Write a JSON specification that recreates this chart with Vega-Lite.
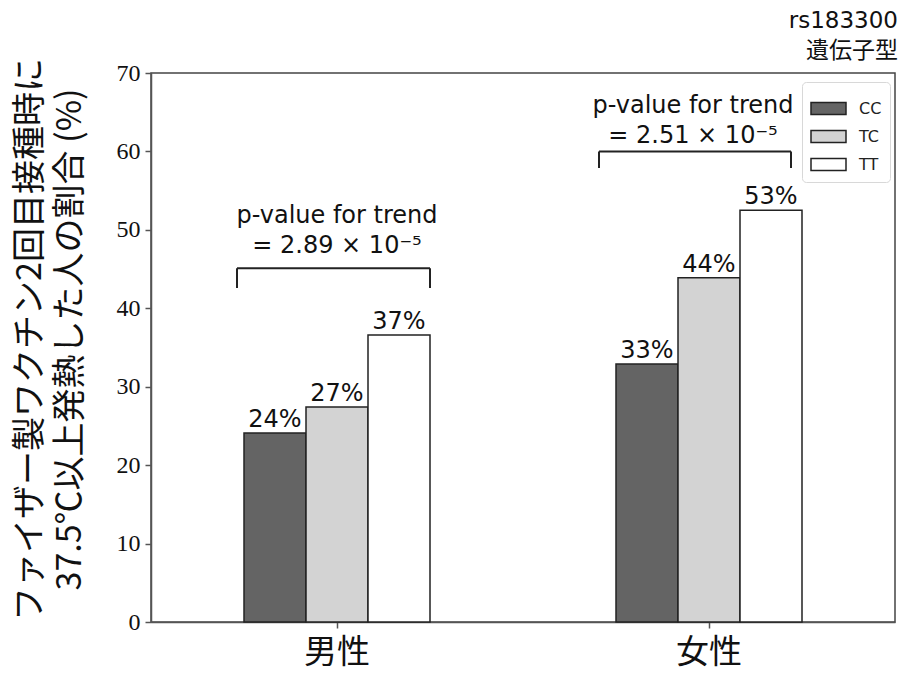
{
  "$schema": "https://vega.github.io/schema/vega-lite/v6.json",
  "width": 744,
  "height": 549,
  "autosize": {"type": "none"},
  "padding": {"left": 151, "top": 73, "right": 12, "bottom": 53},
  "background": "white",
  "title": {
    "text": ["rs183300", "遺伝子型"],
    "anchor": "end",
    "frame": "group",
    "font": "DejaVu Sans, Noto Sans CJK JP",
    "fontSize": 23,
    "fontWeight": "normal",
    "lineHeight": 30,
    "color": "#111",
    "offset": -5,
    "dx": 3
  },
  "config": {
    "font": "DejaVu Sans",
    "view": {"stroke": "#444", "strokeWidth": 1.5},
    "axis": {"grid": false, "domainColor": "#555", "domainWidth": 1.5, "tickColor": "#555", "tickWidth": 1.5, "tickSize": 6, "labelColor": "#111"},
    "axisY": {
      "labelFont": "Liberation Serif", "labelFontSize": 24, "labelPadding": 5, "labelColor": "#111",
      "titleFont": "Noto Sans CJK JP", "titleFontSize": 34, "titleFontWeight": "normal",
      "titleLineHeight": 40, "titleColor": "#111"
    },
    "axisX": {
      "labelAngle": 0, "labelFont": "Noto Sans CJK JP", "labelFontSize": 33, "labelPadding": 8, "labelColor": "#111"
    },
    "legend": {
      "orient": "none",
      "legendX": 651,
      "legendY": 9,
      "strokeColor": "#d8d8d8",
      "fillColor": "white",
      "cornerRadius": 4,
      "padding": 8,
      "symbolType": "M-1,-0.34H1V0.34H-1Z",
      "symbolSize": 1225,
      "symbolStrokeColor": "#222",
      "symbolStrokeWidth": 1.5,
      "labelFont": "DejaVu Sans",
      "labelFontSize": 16,
      "labelColor": "#222",
      "labelOffset": 12,
      "rowPadding": -3
    }
  },
  "layer": [
    {
      "data": {
        "values": [
          {"sex": "男性", "genotype": "CC", "pct": 24.1, "label": "24%"},
          {"sex": "男性", "genotype": "TC", "pct": 27.4, "label": "27%"},
          {"sex": "男性", "genotype": "TT", "pct": 36.6, "label": "37%"},
          {"sex": "女性", "genotype": "CC", "pct": 32.9, "label": "33%"},
          {"sex": "女性", "genotype": "TC", "pct": 43.9, "label": "44%"},
          {"sex": "女性", "genotype": "TT", "pct": 52.5, "label": "53%"}
        ]
      },
      "encoding": {
        "x": {
          "field": "sex", "type": "nominal",
          "scale": {"domain": ["男性", "女性"], "paddingInner": 0.5, "paddingOuter": 0.25},
          "axis": {"title": null}
        },
        "xOffset": {"field": "genotype", "type": "nominal", "scale": {"domain": ["CC", "TC", "TT"], "paddingInner": 0, "paddingOuter": 0}},
        "y": {
          "field": "pct", "type": "quantitative",
          "scale": {"domain": [0, 70], "nice": false},
          "axis": {
            "values": [0, 10, 20, 30, 40, 50, 60, 70],
            "title": ["ファイザー製ワクチン2回目接種時に", "37.5℃以上発熱した人の割合 (%)"],
            "titleX": -104, "titleY": 266, "titleAlign": "center", "titleBaseline": "bottom"
          }
        }
      },
      "layer": [
        {
          "mark": {"type": "bar", "stroke": "#222", "strokeWidth": 1.5},
          "encoding": {
            "fill": {
              "field": "genotype", "type": "nominal",
              "scale": {"domain": ["CC", "TC", "TT"], "range": ["#646464", "#d3d3d3", "#ffffff"]},
              "legend": {"title": null}
            }
          }
        },
        {
          "mark": {"type": "text", "baseline": "alphabetic", "dy": -6, "fontSize": 24, "font": "DejaVu Sans", "color": "#111"},
          "encoding": {"text": {"field": "label"}}
        }
      ]
    },
    {
      "data": {"values": [{"sex": "男性", "note": ["p-value for trend", "= 2.89 × 10⁻⁵"]}]},
      "layer": [
        {
          "mark": {"type": "rule", "stroke": "#222", "strokeWidth": 2, "xOffset": -7, "x2Offset": 0},
          "encoding": {
            "x": {"field": "sex", "type": "nominal", "bandPosition": 0},
            "x2": {"field": "sex", "bandPosition": 1},
            "y": {"datum": 45.1, "type": "quantitative"}
          }
        },
        {
          "mark": {"type": "rule", "stroke": "#222", "strokeWidth": 2, "xOffset": -7},
          "encoding": {
            "x": {"field": "sex", "type": "nominal", "bandPosition": 0},
            "y": {"datum": 45.1, "type": "quantitative"},
            "y2": {"datum": 42.6}
          }
        },
        {
          "mark": {"type": "rule", "stroke": "#222", "strokeWidth": 2, "xOffset": 0},
          "encoding": {
            "x": {"field": "sex", "type": "nominal", "bandPosition": 1},
            "y": {"datum": 45.1, "type": "quantitative"},
            "y2": {"datum": 42.6}
          }
        },
        {
          "mark": {"type": "text", "baseline": "alphabetic", "align": "center", "fontSize": 24, "lineHeight": 30, "font": "DejaVu Sans", "color": "#111", "dx": 0},
          "encoding": {
            "x": {"field": "sex", "type": "nominal"},
            "y": {"datum": 50.9, "type": "quantitative"},
            "text": {"field": "note"}
          }
        }
      ]
    },
    {
      "data": {"values": [{"sex": "女性", "note": ["p-value for trend", "= 2.51 × 10⁻⁵"]}]},
      "layer": [
        {
          "mark": {"type": "rule", "stroke": "#222", "strokeWidth": 2, "xOffset": -17, "x2Offset": -11},
          "encoding": {
            "x": {"field": "sex", "type": "nominal", "bandPosition": 0},
            "x2": {"field": "sex", "bandPosition": 1},
            "y": {"datum": 60.0, "type": "quantitative"}
          }
        },
        {
          "mark": {"type": "rule", "stroke": "#222", "strokeWidth": 2, "xOffset": -17},
          "encoding": {
            "x": {"field": "sex", "type": "nominal", "bandPosition": 0},
            "y": {"datum": 60.0, "type": "quantitative"},
            "y2": {"datum": 57.9}
          }
        },
        {
          "mark": {"type": "rule", "stroke": "#222", "strokeWidth": 2, "xOffset": -11},
          "encoding": {
            "x": {"field": "sex", "type": "nominal", "bandPosition": 1},
            "y": {"datum": 60.0, "type": "quantitative"},
            "y2": {"datum": 57.9}
          }
        },
        {
          "mark": {"type": "text", "baseline": "alphabetic", "align": "center", "fontSize": 24, "lineHeight": 30, "font": "DejaVu Sans", "color": "#111", "dx": -16},
          "encoding": {
            "x": {"field": "sex", "type": "nominal"},
            "y": {"datum": 64.9, "type": "quantitative"},
            "text": {"field": "note"}
          }
        }
      ]
    }
  ]
}
